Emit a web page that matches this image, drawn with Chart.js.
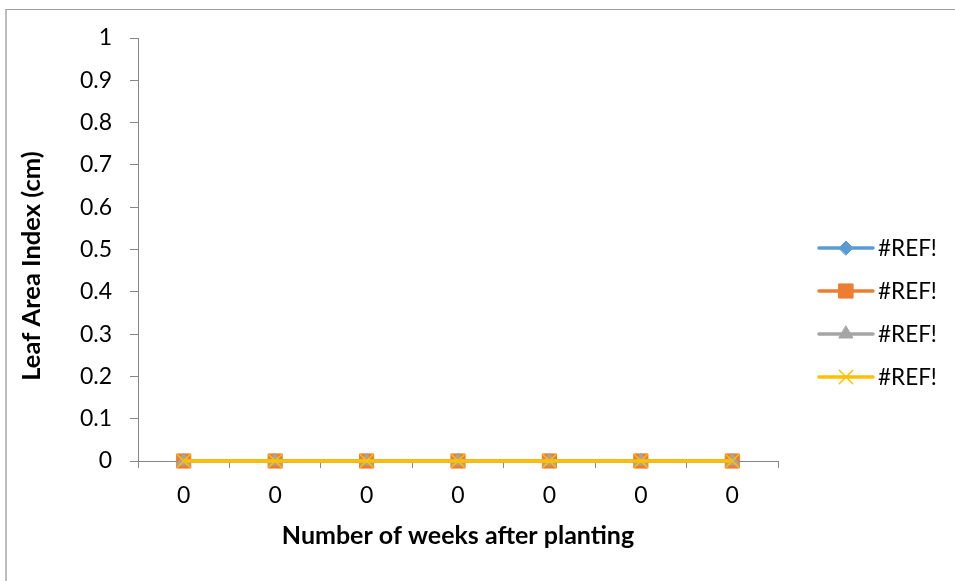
<!DOCTYPE html>
<html>
<head>
<meta charset="utf-8">
<title>Leaf Area Index</title>
<script src="https://cdn.jsdelivr.net/npm/chart.js@4/dist/chart.umd.min.js"></script>
<style>
  html, body { margin: 0; padding: 0; background: #fff; }
  #wrap { position: relative; width: 955px; height: 581px; overflow: hidden; }
  #frame { position: absolute; left: 5px; top: 9px; width: 1000px; height: 700px;
           border-left: 2px solid #bdbdbd; border-top: 1px solid #a0a0a0; box-sizing: border-box; }
  #chart { position: absolute; left: 0; top: 0; }
</style>
</head>
<body>
<div id="wrap">
  <div id="frame"></div>
  <canvas id="chart" width="955" height="581"></canvas>
</div>
<script>
// Week labels along the x axis
const weeks = ['0', '0', '0', '0', '0', '0', '0'];

// Series names shown in the legend
const seriesNames = ['#REF!', '#REF!', '#REF!', '#REF!'];

// Leaf area index per series
const series1 = [0, 0, 0, 0, 0, 0, 0];
const series2 = [0, 0, 0, 0, 0, 0, 0];
const series3 = [0, 0, 0, 0, 0, 0, 0];
const series4 = [0, 0, 0, 0, 0, 0, 0];

// Y axis range and step
const yMin = 0;
const yMax = 1;
const yStep = 0.1;

const FONT = 'Lato, "Open Sans", "Liberation Sans", sans-serif';
const AXIS_GREY = '#868686';

const styles = [
  { color: '#5B9BD5', pointStyle: 'rectRot', radius: 7 },
  { color: '#ED7D31', pointStyle: 'rect', radius: 10 },
  { color: '#A5A5A5', pointStyle: 'triangle', radius: 8 },
  { color: '#FFC000', pointStyle: 'crossRot', radius: 9.5 }
];
const values = [series1, series2, series3, series4];

const datasets = values.map((vals, i) => ({
  label: seriesNames[i],
  data: vals,
  borderColor: styles[i].color,
  backgroundColor: styles[i].color,
  pointBackgroundColor: styles[i].color,
  pointBorderColor: styles[i].color,
  pointStyle: styles[i].pointStyle,
  pointRadius: styles[i].radius,
  pointHoverRadius: styles[i].radius,
  pointBorderWidth: i === 3 ? 1.5 : 1,
  borderWidth: 3.5,
  tension: 0,
  fill: false,
  clip: false,
  // later series are painted over earlier ones
  order: values.length - 1 - i
}));

// Legend on the right: a short line sample with the series marker, then the name
const sideLegend = {
  id: 'sideLegend',
  afterDraw(chart) {
    const ctx = chart.ctx;
    const area = chart.chartArea;
    const lineStart = area.right + 41;
    const lineLen = 54;
    const firstY = 248;
    const stepY = 43;
    ctx.save();
    chart.data.datasets.forEach((ds, i) => {
      const y = firstY + i * stepY;
      ctx.strokeStyle = ds.borderColor;
      ctx.lineWidth = ds.borderWidth;
      ctx.lineCap = 'round';
      ctx.beginPath();
      ctx.moveTo(lineStart, y);
      ctx.lineTo(lineStart + lineLen, y);
      ctx.stroke();
      ctx.fillStyle = ds.pointBackgroundColor;
      ctx.strokeStyle = ds.pointBorderColor;
      ctx.lineWidth = ds.pointBorderWidth;
      Chart.helpers.drawPoint(ctx, {
        pointStyle: ds.pointStyle,
        radius: ds.pointRadius,
        rotation: 0,
        borderWidth: ds.pointBorderWidth
      }, lineStart + lineLen / 2, y);
      ctx.fillStyle = '#000';
      ctx.font = '22.5px ' + FONT;
      ctx.textAlign = 'left';
      ctx.textBaseline = 'middle';
      ctx.fillText(ds.label, lineStart + lineLen + 5, y + 1);
    });
    ctx.restore();
  }
};

// Rotated title of the value axis
const yTitle = {
  id: 'yTitle',
  afterDraw(chart) {
    const ctx = chart.ctx;
    ctx.save();
    ctx.translate(32, 266);
    ctx.rotate(-Math.PI / 2);
    ctx.font = 'bold 25.5px ' + FONT;
    ctx.fillStyle = '#000';
    ctx.textAlign = 'center';
    ctx.textBaseline = 'middle';
    ctx.fillText('Leaf Area Index (cm)', 0, 0);
    ctx.restore();
  }
};

new Chart(document.getElementById('chart'), {
  type: 'line',
  data: { labels: weeks, datasets: datasets },
  plugins: [sideLegend, yTitle],
  options: {
    responsive: false,
    animation: false,
    layout: { padding: { left: 0, top: 38, right: 177, bottom: 0 } },
    plugins: {
      legend: { display: false },
      tooltip: { enabled: false }
    },
    scales: {
      x: {
        type: 'category',
        offset: true,
        grid: { offset: true, drawOnChartArea: false, drawTicks: true, tickLength: 7, color: AXIS_GREY, lineWidth: 1 },
        border: { display: true, color: AXIS_GREY, width: 1 },
        ticks: { color: '#000', font: { family: FONT, size: 23 }, padding: 14, maxRotation: 0, autoSkip: false },
        title: {
          display: true,
          text: 'Number of weeks after planting',
          color: '#000',
          font: { family: FONT, size: 25, weight: 'bold' },
          padding: { top: 30, bottom: 30 }
        },
        afterFit(scale) { scale.height = 120; }
      },
      y: {
        min: yMin,
        max: yMax,
        grid: { drawOnChartArea: false, drawTicks: true, tickLength: 8, color: AXIS_GREY, lineWidth: 1 },
        border: { display: true, color: AXIS_GREY, width: 1 },
        ticks: {
          stepSize: yStep,
          color: '#000',
          font: { family: FONT, size: 23 },
          padding: 18,
          callback: (v) => String(Number(v.toFixed(1)))
        },
        afterFit(scale) { scale.width = 138; }
      }
    }
  }
});
</script>
</body>
</html>
